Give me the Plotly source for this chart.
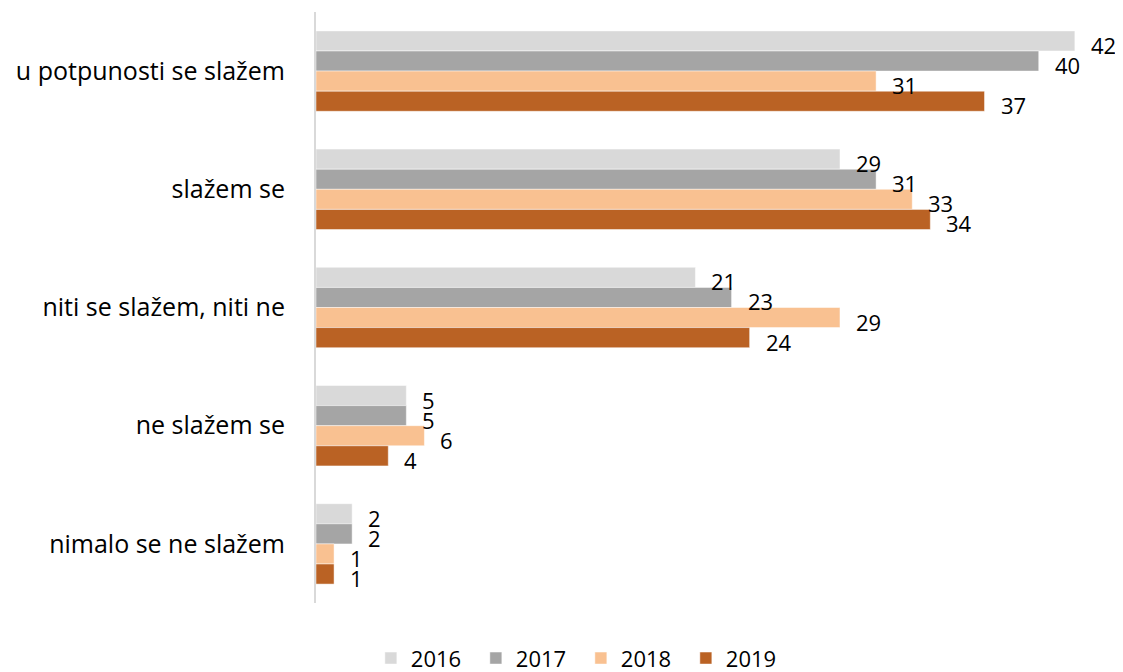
import plotly.graph_objects as go

categories = ["u potpunosti se slažem", "slažem se", "niti se slažem, niti ne",
              "ne slažem se", "nimalo se ne slažem"]
years = ["2016", "2017", "2018", "2019"]
v2016 = [42, 29, 21, 5, 2]
v2017 = [40, 31, 23, 5, 2]
v2018 = [31, 33, 29, 6, 1]
v2019 = [37, 34, 24, 4, 1]
colors = ["#d9d9d9", "#a5a5a5", "#f9c191", "#ba6224"]

series = [v2016, v2017, v2018, v2019]
FONT = "'Open Sans', Lato, sans-serif"
BARGAP = 0.32

fig = go.Figure()
for name, vals, col in zip(years, series, colors):
    fig.add_trace(go.Bar(
        name=name, y=categories, x=vals, orientation="h",
        marker=dict(color=col, line=dict(color="rgba(255,255,255,0.6)", width=0.8)),
        cliponaxis=False,
    ))

# data labels, positioned from the data values
bw = (1 - BARGAP) / len(series)
for i, vals in enumerate(series):
    off = (i - (len(series) - 1) / 2) * bw
    for j, v in enumerate(vals):
        fig.add_annotation(x=v, y=j + off, xref="x", yref="y", text=str(v),
                           showarrow=False, xanchor="left", yanchor="middle",
                           xshift=14, yshift=-4,
                           font=dict(family=FONT, size=22, color="#000000"))

fig.update_layout(
    width=1115, height=664,
    margin=dict(l=308, r=12, t=4, b=69, autoexpand=False),
    barmode="group", bargap=BARGAP, bargroupgap=0,
    plot_bgcolor="white", paper_bgcolor="white",
    font=dict(family=FONT, size=22, color="#000000"),
    showlegend=True,
    legend=dict(orientation="h", x=0.069, xanchor="left", y=-0.0935, yanchor="middle",
                font=dict(size=22), traceorder="normal", itemwidth=30,
                entrywidth=60, entrywidthmode="pixels"),
)
fig.update_xaxes(range=[0, 44], visible=False, showgrid=False, zeroline=False)
fig.update_yaxes(autorange="reversed", showline=True, linecolor="#d9d9d9", linewidth=2,
                 ticks="", ticklabelstandoff=24, showgrid=False, automargin=False,
                 tickfont=dict(size=25, color="#000000"))

fig.write_html("out.html")
